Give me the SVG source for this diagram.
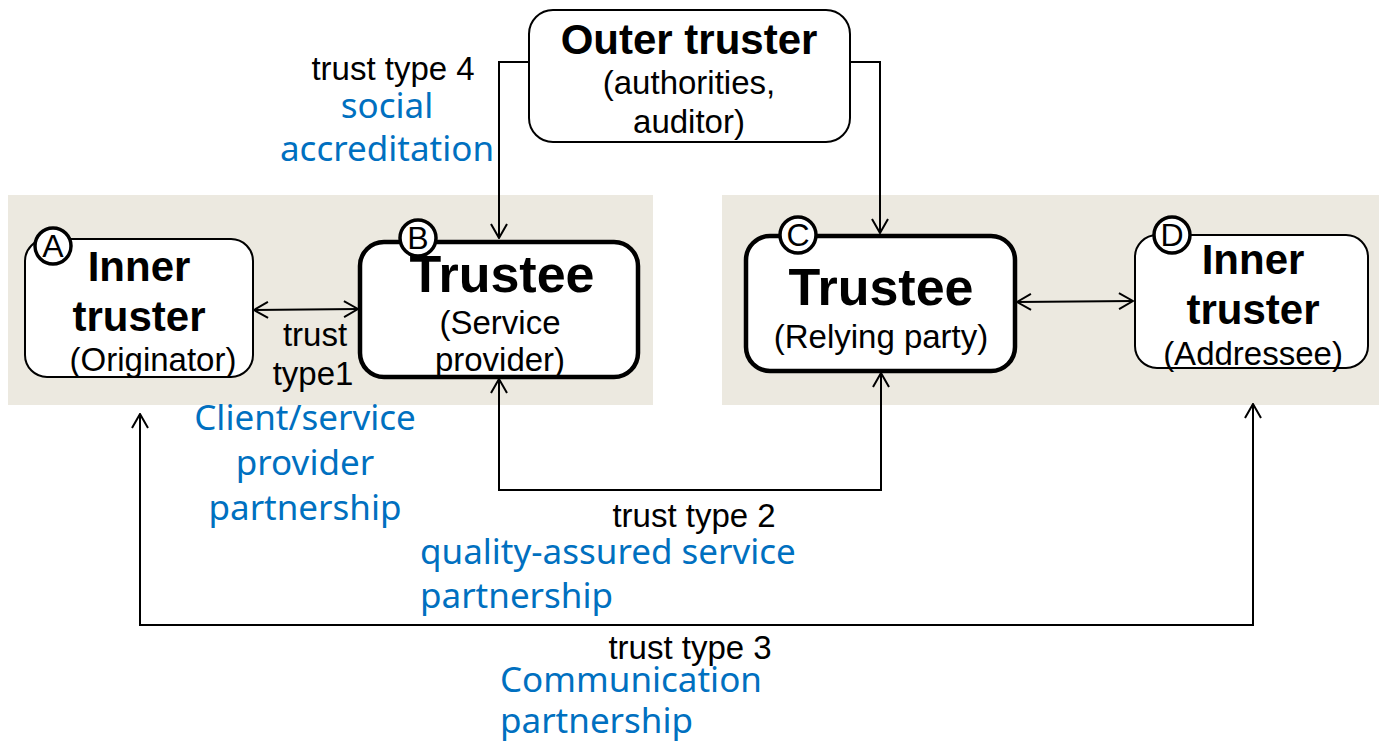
<svg xmlns="http://www.w3.org/2000/svg" width="1379" height="743" viewBox="0 0 1379 743">
<defs>
<marker id="arr" viewBox="0 0 16 18" refX="15" refY="9" markerWidth="16" markerHeight="18" markerUnits="userSpaceOnUse" orient="auto-start-reverse">
<path d="M1,1 L15,9 L1,17" fill="none" stroke="#000" stroke-width="2"/>
</marker>
<style>
.panel{fill:#ECE9E0}
.box{fill:#fff;stroke:#000;stroke-width:2}
.thick{fill:#fff;stroke:#000;stroke-width:4.5}
.badge{fill:#fff;stroke:#000;stroke-width:3.5}
.conn{fill:none;stroke:#000;stroke-width:2}
text{font-family:"Liberation Sans",Arial,sans-serif;fill:#000}
.t{font-size:33px;text-anchor:middle}
.b{font-size:42px;font-weight:bold;text-anchor:middle}
.bb{font-size:52px;font-weight:bold;text-anchor:middle}
.l{font-size:32px;text-anchor:middle}
.blue{font-family:"Noto Sans","Open Sans",sans-serif;font-size:35px;fill:#0070C0}
</style>
</defs>
<rect class="panel" x="8" y="195" width="645" height="210"/>
<rect class="panel" x="722" y="195" width="657" height="210"/>

<g id="connectors">
<line class="conn" x1="254" y1="310" x2="358" y2="309" marker-start="url(#arr)" marker-end="url(#arr)"/>
<polyline class="conn" points="529,62 499,62 499,238" marker-end="url(#arr)"/>
<polyline class="conn" points="850,62 880,62 880,233" marker-end="url(#arr)"/>
<line class="conn" x1="1017" y1="302" x2="1133" y2="301" marker-start="url(#arr)" marker-end="url(#arr)"/>
<polyline class="conn" points="499,379 499,490 881,490 881,373" marker-start="url(#arr)" marker-end="url(#arr)"/>
<polyline class="conn" points="140,414 140,625 1253,625 1253,404" marker-start="url(#arr)" marker-end="url(#arr)"/>
</g>

<g id="outer">
<rect class="box" x="529" y="10" width="321" height="132" rx="24"/>
<text class="b" x="689" y="54">Outer truster</text>
<text class="t" x="689" y="94">(authorities,</text>
<text class="t" x="689" y="133">auditor)</text>
</g>

<g id="nodeA">
<rect class="box" x="25" y="239" width="228" height="138" rx="22"/>
<text class="b" x="139" y="281">Inner</text>
<text class="b" x="139" y="331">truster</text>
<text class="t" x="153" y="371">(Originator)</text>
<circle class="badge" cx="53" cy="246" r="18"/>
<text class="l" x="53" y="257">A</text>
</g>

<g id="nodeB">
<rect class="thick" x="360" y="242" width="278" height="135" rx="24"/>
<text class="bb" x="502" y="292">Trustee</text>
<text class="t" x="500" y="334">(Service</text>
<text class="t" x="500" y="371">provider)</text>
<circle class="badge" cx="418" cy="238" r="18"/>
<text class="l" x="418" y="249">B</text>
</g>

<g id="nodeC">
<rect class="thick" x="746" y="236" width="269" height="135" rx="24"/>
<text class="bb" x="881" y="305">Trustee</text>
<text class="t" x="881" y="348">(Relying party)</text>
<circle class="badge" cx="798" cy="235" r="18"/>
<text class="l" x="798" y="246">C</text>
</g>

<g id="nodeD">
<rect class="box" x="1135" y="235" width="233" height="133" rx="22"/>
<text class="b" x="1253" y="274">Inner</text>
<text class="b" x="1253" y="324">truster</text>
<text class="t" x="1253" y="365">(Addressee)</text>
<circle class="badge" cx="1172" cy="235" r="18"/>
<text class="l" x="1172" y="246">D</text>
</g>

<g id="labels">
<text class="t" x="393" y="80">trust type 4</text>
<text class="blue" x="387" y="118" text-anchor="middle">social</text>
<text class="blue" x="387" y="161" text-anchor="middle">accreditation</text>
<text class="t" x="315" y="346">trust</text>
<text class="t" x="313" y="385">type1</text>
<text class="blue" x="305" y="430" text-anchor="middle">Client/service</text>
<text class="blue" x="305" y="475" text-anchor="middle">provider</text>
<text class="blue" x="305" y="520" text-anchor="middle">partnership</text>
<text class="t" x="694" y="527">trust type 2</text>
<text class="blue" x="420" y="564">quality-assured service</text>
<text class="blue" x="420" y="608">partnership</text>
<text class="t" x="690" y="659">trust type 3</text>
<text class="blue" x="500" y="692">Communication</text>
<text class="blue" x="500" y="733">partnership</text>
</g>
</svg>
